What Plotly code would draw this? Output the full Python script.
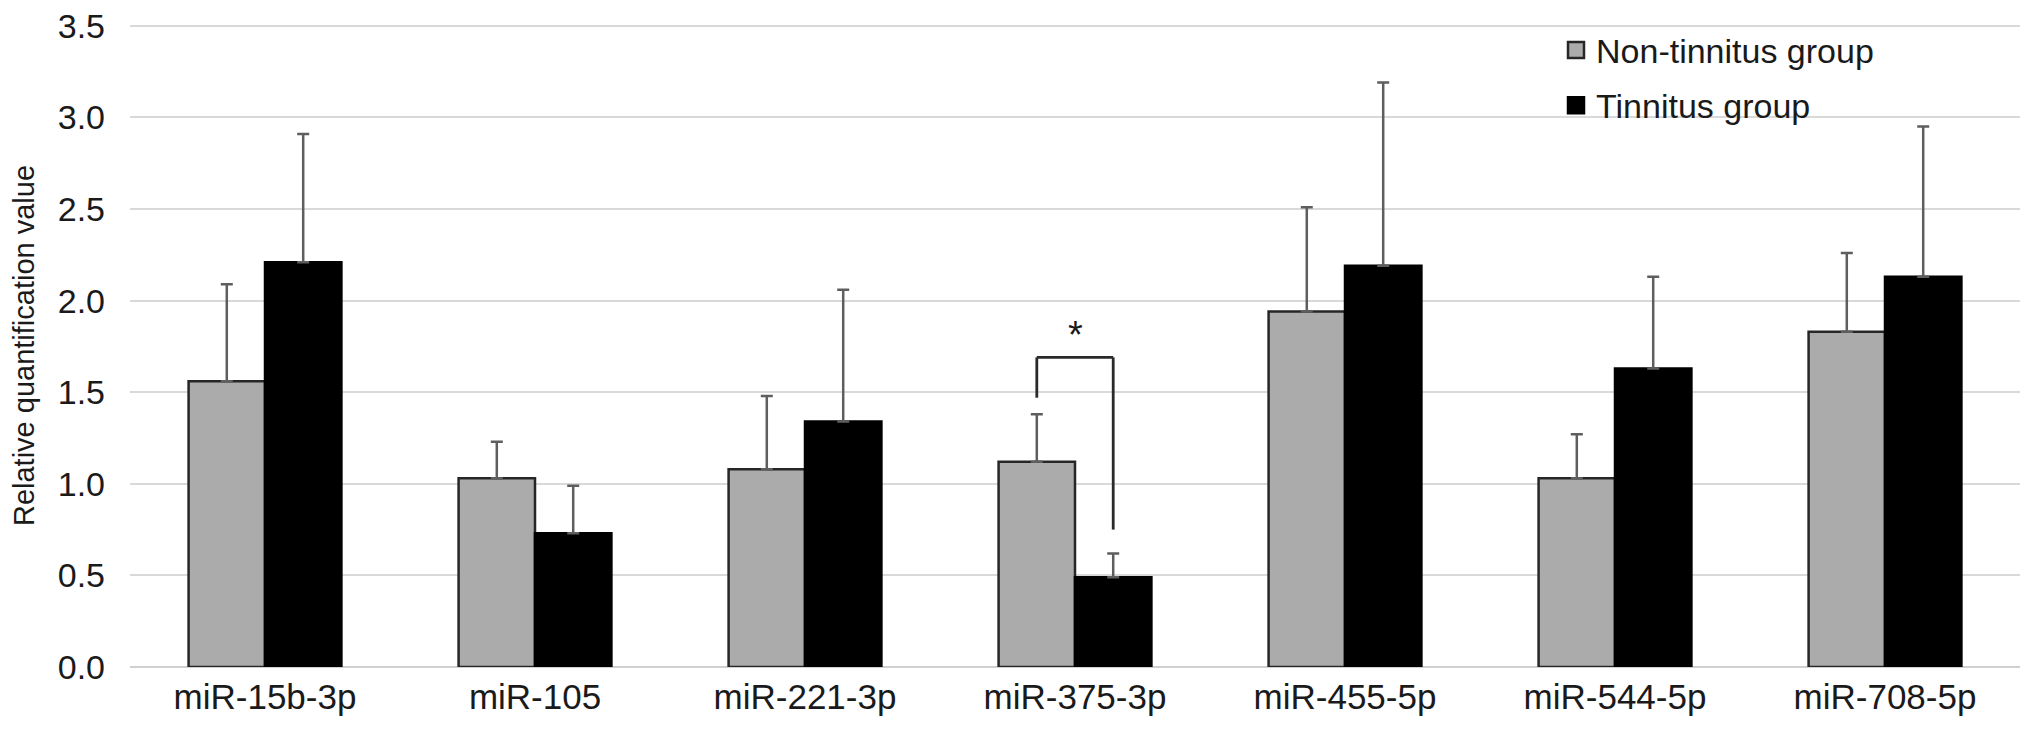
import plotly.graph_objects as go

# ---- data ----
categories = ["miR-15b-3p", "miR-105", "miR-221-3p", "miR-375-3p",
              "miR-455-5p", "miR-544-5p", "miR-708-5p"]
non_tinnitus = [1.56, 1.03, 1.08, 1.12, 1.94, 1.03, 1.83]
non_tinnitus_err = [0.53, 0.20, 0.40, 0.26, 0.57, 0.24, 0.43]
tinnitus = [2.21, 0.73, 1.34, 0.49, 2.19, 1.63, 2.13]
tinnitus_err = [0.70, 0.26, 0.72, 0.13, 1.00, 0.50, 0.82]

y_ticks = [0.0, 0.5, 1.0, 1.5, 2.0, 2.5, 3.0, 3.5]
y_tick_labels = ["0.0", "0.5", "1.0", "1.5", "2.0", "2.5", "3.0", "3.5"]

# significance bracket for miR-375-3p
sig_category_index = 3
sig_bracket_top = 1.69
sig_left_bottom = 1.47
sig_right_bottom = 0.75
sig_star_y = 1.81

FONT = "Liberation Sans, Arial, Helvetica, sans-serif"
TEXT = "#1a1a1a"
GREY = "#ababab"
BARGAP = 0.434

fig = go.Figure()

fig.add_trace(go.Bar(
    x=categories, y=non_tinnitus, name="Non-tinnitus group",
    marker=dict(color=GREY, line=dict(color="#262626", width=2.5)),
    error_y=dict(type="data", symmetric=False, array=non_tinnitus_err,
                 arrayminus=[0] * len(categories),
                 color="#5e5e5e", thickness=2.5, width=6),
    showlegend=False,
))
fig.add_trace(go.Bar(
    x=categories, y=tinnitus, name="Tinnitus group",
    marker=dict(color="#000000", line=dict(color="#000000", width=2.5)),
    error_y=dict(type="data", symmetric=False, array=tinnitus_err,
                 arrayminus=[0] * len(categories),
                 color="#5e5e5e", thickness=2.5, width=6),
    showlegend=False,
))

# legend entries (square swatches)
fig.add_trace(go.Scatter(
    x=[None], y=[None], mode="markers", name="Non-tinnitus group",
    marker=dict(symbol="square", size=16, color=GREY,
                line=dict(color="#262626", width=2.5)),
    legendgroup="a",
))
fig.add_trace(go.Scatter(
    x=[None], y=[None], mode="markers", name="Tinnitus group",
    marker=dict(symbol="square", size=16, color="#000000",
                line=dict(color="#000000", width=2.5)),
    legendgroup="b",
))

# significance bracket
half = (1 - BARGAP) / 4.0
xl = sig_category_index - half
xr = sig_category_index + half
line_style = dict(color="#2a2a2a", width=2.8)
fig.add_shape(type="line", xref="x", yref="y", x0=xl, x1=xl,
              y0=sig_left_bottom, y1=sig_bracket_top, line=line_style)
fig.add_shape(type="line", xref="x", yref="y", x0=xl, x1=xr,
              y0=sig_bracket_top, y1=sig_bracket_top, line=line_style)
fig.add_shape(type="line", xref="x", yref="y", x0=xr, x1=xr,
              y0=sig_right_bottom, y1=sig_bracket_top, line=line_style)
fig.add_annotation(x=sig_category_index, y=sig_star_y, xref="x", yref="y",
                   text="*", showarrow=False,
                   font=dict(family=FONT, size=38, color=TEXT))

fig.update_layout(
    width=2032, height=730,
    margin=dict(l=122, r=20, t=16, b=71, autoexpand=False),
    paper_bgcolor="white", plot_bgcolor="white",
    barmode="group", bargap=BARGAP, bargroupgap=0,
    font=dict(family=FONT, color=TEXT, size=34),
    legend=dict(x=0.7545, y=1.004, xanchor="left", yanchor="top",
                bgcolor="rgba(0,0,0,0)", font=dict(size=34, color=TEXT),
                tracegroupgap=8, itemsizing="trace"),
    showlegend=True,
)
fig.update_xaxes(
    type="category", showgrid=False, showline=False, zeroline=False,
    ticks="", ticklabelstandoff=6,
    tickfont=dict(family=FONT, size=35, color=TEXT),
)
fig.update_yaxes(
    range=[0, 3.51], tickvals=y_ticks, ticktext=y_tick_labels,
    showgrid=True, gridcolor="#d9d9d9", gridwidth=2,
    zeroline=True, zerolinecolor="#d0d0d0", zerolinewidth=2,
    showline=False, ticks="", ticklabelstandoff=24,
    ticklabeloverflow="allow",
    tickfont=dict(family=FONT, size=34, color=TEXT),
    title=dict(text="Relative quantification value", standoff=22,
               font=dict(family=FONT, size=29, color=TEXT)),
)

fig.write_html("out.html")
